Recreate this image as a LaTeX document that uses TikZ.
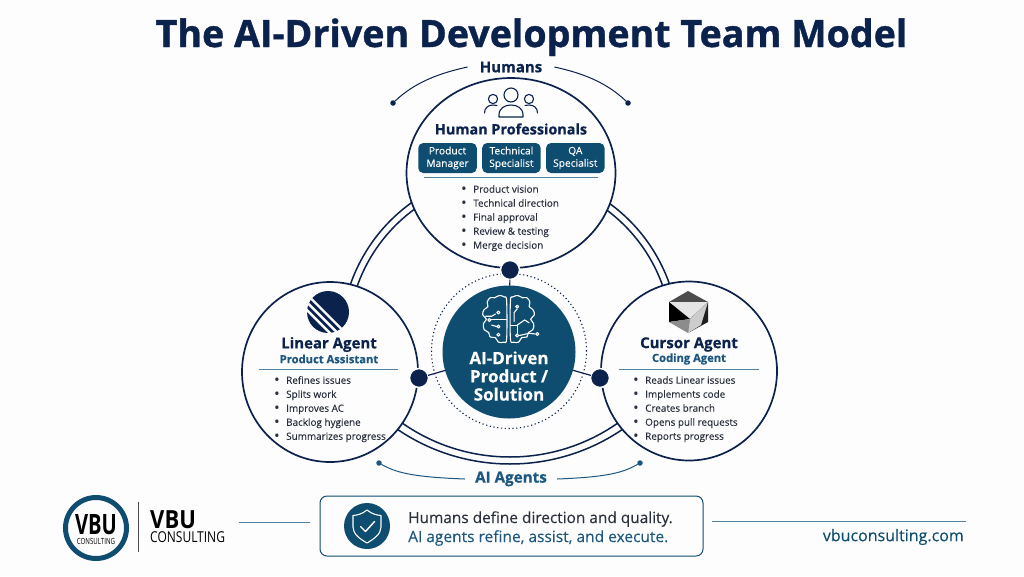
\documentclass[tikz,border=0pt]{standalone}
\usepackage{fontspec}
\setmainfont[FakeBold=0.15,BoldFeatures={FakeBold=0.5}]{Open Sans}
\newfontfamily\titlefont[BoldFeatures={FakeBold=1}]{Open Sans}
\newfontfamily\vbufont[FakeStretch=0.72]{Open Sans}
\newfontfamily\brandfont[FakeStretch=0.88]{Open Sans}
\newfontfamily\brandsub[FakeStretch=0.8]{Open Sans}
\usetikzlibrary{
  shapes.geometric,
  positioning,
  calc
}
\definecolor{mynavy}{RGB}{11,34,77}
\definecolor{myteal}{RGB}{14,76,112}
\definecolor{mysub}{RGB}{30,88,128}
\definecolor{myrule}{RGB}{84,130,160}
\definecolor{mytext}{RGB}{42,48,62}
\definecolor{mypaper}{RGB}{253,253,253}
\newcommand{\sz}[2]{\fontsize{#1}{#2}\selectfont}
\newcommand{\itembul}{\makebox[12pt][l]{\sz{14}{14}\raisebox{-0.6pt}{\textbullet}}}

\begin{document}
\begin{tikzpicture}[
  x=1pt,y=1pt,
  bigcircle/.style={
    draw=mynavy,
    fill=mypaper,
    line width=1.7pt,
    ellipse,
    inner sep=0pt,
    outer sep=0pt
    },
  hubdot/.style={
    circle,
    fill=mynavy,
    draw=mypaper,
    line width=1.5pt,
    minimum size=19pt,
    inner sep=0pt,
    outer sep=0pt
    },
  tinydot/.style={
    circle,
    fill=#1,
    minimum size=5.5pt,
    inner sep=0pt,
    outer sep=0pt
    },
  rolebox/.style={
    fill=myteal,
    rounded corners=5pt,
    text=white,
    align=center,
    minimum width=58.5pt,
    minimum height=30pt,
    inner sep=0pt,
    font=\sz{10.2}{12.5}
    },
  itemlist/.style={
    text=mytext,
    align=left,
    anchor=north west,
    inner sep=0pt,
    font=\sz{9.9}{14}
    },
  headname/.style={
    text=mynavy,
    inner sep=0pt,
    font=\sz{15}{16}\bfseries
    },
  subname/.style={
    text=mysub,
    inner sep=0pt,
    font=\sz{11.2}{13}\bfseries
    },
  ruleline/.style={draw=myrule,line width=0.9pt},
  ringline/.style={draw=mynavy,line width=1.5pt},
  iconline/.style={draw=#1,line width=1.1pt,line join=round,line cap=round}
]
\useasboundingbox (0,-576) rectangle (1024,0);
\fill[mypaper] (0,-576) rectangle (1024,0);

\node[text=mynavy,font=\titlefont\sz{37.6}{40}\bfseries,inner sep=0pt,anchor=base] (title) at (531.5,-47)
  {The AI-Driven Development Team Model};

% double ring behind the circles
\coordinate (ringtop) at (510,-340);
\coordinate (ringlow) at (510,-264);
\coordinate (ringin) at (510,-269);
\draw[ringline] ([shift={(ringtop)}]118:169) arc (118:165:169);
\draw[ringline] ([shift={(ringtop)}]118:162) arc (118:165:162);
\draw[ringline] ([shift={(ringtop)}]62:169) arc (62:15:169);
\draw[ringline] ([shift={(ringtop)}]62:162) arc (62:15:162);
\draw[ringline] ([shift={(ringlow)}]230:200) arc (230:310:200);
\draw[ringline] ([shift={(ringin)}]230:188) arc (230:310:188);

% centre
\node[circle,draw=mynavy,line width=1.1pt,dash pattern=on 1.2pt off 2.6pt,
  minimum size=155pt,inner sep=0pt] (corering) at (509,-351) {};
\node[circle,fill=myteal,minimum size=133pt,inner sep=0pt,outer sep=0pt] (core) at (509,-352) {};
\node[text=white,align=center,inner sep=0pt,font=\sz{17}{18.2}\bfseries] (coretext) at (509,-376)
  {AI-Driven\\Product /\\Solution};

% brain
\begin{scope}[shift={(472.9,-289.6)},x=0.375pt,y=-0.37pt,iconline=white]
  \draw plot[smooth cycle,tension=0.6] coordinates {(90,32) (84,20) (70,16) (58,22) (46,22) (38,34) (40,46) (30,54) (26,68) (36,80) (28,92) (30,108) (42,116) (46,128) (60,130) (68,142) (82,142) (90,132)};
  \draw plot[smooth cycle,tension=0.6] coordinates {(100,32) (106,20) (120,16) (132,22) (144,22) (152,34) (150,46) (160,54) (164,68) (154,80) (162,92) (160,108) (148,116) (144,128) (130,130) (122,142) (108,142) (100,132)};
  \foreach \px/\py in {68/62,44/82,68/100,68/122,118/46,118/124,172/120}
    \draw (\px,\py) circle (4);
  \draw (60,66) -- (50,72) -- (34,72);
  \draw (48,82) -- (90,82);
  \draw (64,100) -- (50,96);
  \draw (118,52) -- (110,62) -- (110,86);
  \draw (118,96) -- (138,82) -- (150,90);
  \draw (100,96) -- (118,96) -- (118,118);
  \draw (124,124) -- (150,118) -- (166,120);
\end{scope}

% three circles
\node[bigcircle,minimum width=209pt,minimum height=190pt] (humancircle) at (511,-173) {};
\node[bigcircle,minimum width=176pt,minimum height=180pt] (linearcircle) at (330,-372) {};
\node[bigcircle,minimum width=176pt,minimum height=179pt] (cursorcircle) at (689,-371) {};

% hubs
\node[hubdot] (hubtop) at (510,-270) {};
\node[hubdot] (hubleft) at (419,-378) {};
\node[hubdot] (hubright) at (600,-378) {};
\draw[draw=mynavy,line width=1.2pt] (hubtop) -- (core);
\draw[draw=mynavy,line width=1.2pt] (hubleft) -- (core);
\draw[draw=mynavy,line width=1.2pt] (hubright) -- (core);

% humans
\node[text=mynavy,inner sep=0pt,font=\sz{15}{16}\bfseries] (humans) at (511,-67) {Humans};
\node[tinydot=mynavy] (humanl) at (393,-103) {};
\node[tinydot=mynavy] (humanr) at (628,-103) {};
\draw[draw=mynavy,line width=1pt] (humanl) .. controls (415,-82) and (440,-73) .. ([xshift=-12pt]humans.west);
\draw[draw=mynavy,line width=1pt] (humanr) .. controls (606,-82) and (582,-73) .. ([xshift=12pt]humans.east);

% people icon
\begin{scope}[iconline=mynavy]
  \draw (511,-95) circle (7);
  \draw (493,-99) circle (4.6);
  \draw (529,-99) circle (4.6);
  \draw (499,-117) -- (523,-117) -- (523,-115) .. controls (523,-108) and (517,-105) .. (511,-105)
    .. controls (505,-105) and (499,-108) .. (499,-115) -- cycle;
  \draw (484.5,-113) .. controls (484.5,-108) and (488,-105) .. (493,-105) -- (497,-105.5);
  \draw (537.5,-113) .. controls (537.5,-108) and (534,-105) .. (529,-105) -- (525,-105.5);
\end{scope}

\node[headname,font=\sz{14.4}{16}\bfseries] (humanhead) at (511,-129) {Human Professionals};
\node[rolebox] (rolepm) at (447.5,-158) {Product\\Manager};
\node[rolebox,right=5pt of rolepm] (rolets) {Technical\\Specialist};
\node[rolebox,right=5pt of rolets] (roleqa) {QA\\Specialist};
\draw[ruleline] (424,-177.5) -- (598,-177.5);
\node[itemlist] (humanlist) at (461,-185)
  {\itembul Product vision\\
   \itembul Technical direction\\
   \itembul Final approval\\
   \itembul Review \& testing\\
   \itembul Merge decision};

% linear agent
\fill[mynavy] (328,-312) circle (21);
\begin{scope}
  \clip (328,-312) circle (21.5);
  \foreach \off in {2.5,8,13.5}
    \draw[draw=mypaper,line width=2.4pt] ($(328,-312)+(225:\off)+(-45:30)$) -- ($(328,-312)+(225:\off)+(135:30)$);
\end{scope}
\node[headname] (linearhead) at (329,-344.5) {Linear Agent};
\node[subname] (linearsub) at (329,-359) {Product Assistant};
\draw[ruleline] (259,-369) -- (398,-369);
\node[itemlist] (linearlist) at (274,-376)
  {\itembul Refines issues\\
   \itembul Splits work\\
   \itembul Improves AC\\
   \itembul Backlog hygiene\\
   \itembul Summarizes progress};

% cursor agent
\fill[black!70] (688,-291) -- (708,-302) -- (669,-302) -- cycle;
\fill[black!10] (669,-302) -- (708,-302) -- (690,-319) -- cycle;
\fill[black] (669,-302) -- (690,-319) -- (669,-322) -- cycle;
\fill[black!45] (669,-322) -- (690,-319) -- (688,-333) -- cycle;
\fill[black!88] (708,-302) -- (708,-322) -- (688,-333) -- (690,-319) -- cycle;
\fill[black!20] (690,-319) -- (688,-333) -- (701,-325) -- (708,-302) -- cycle;
\node[headname] (cursorhead) at (689,-344.5) {Cursor Agent};
\node[subname] (cursorsub) at (689,-359) {Coding Agent};
\draw[ruleline] (619,-369) -- (759,-369);
\node[itemlist] (cursorlist) at (633,-376)
  {\itembul Reads Linear issues\\
   \itembul Implements code\\
   \itembul Creates branch\\
   \itembul Opens pull requests\\
   \itembul Reports progress};

% ai agents
\node[text=mysub,inner sep=0pt,font=\sz{15.2}{16}\bfseries] (agents) at (511,-479) {AI Agents};
\node[tinydot=mysub] (agentl) at (379,-463) {};
\node[tinydot=mysub] (agentr) at (640,-463) {};
\draw[draw=mysub,line width=1pt] (agentl) .. controls (395,-472) and (410,-477) .. ([xshift=-10pt]agents.west);
\draw[draw=mysub,line width=1pt] (agentr) .. controls (624,-472) and (610,-477) .. ([xshift=10pt]agents.east);

% footer
\node[circle,draw=myteal,line width=5pt,minimum size=61pt,inner sep=0pt] (logoring) at (96,-528) {};
\node[inner sep=0pt,font=\vbufont\sz{28}{28}\bfseries] (logovbu) at (96,-525) {VBU};
\node[inner sep=0pt,font=\vbufont\sz{8.5}{9}] (logocon) at (96,-541) {CONSULTING};
\draw[draw=black!70,line width=0.8pt] (138,-502) -- (138,-552);
\node[inner sep=0pt,anchor=base west,font=\brandfont\sz{25}{25}\bfseries] (brandvbu) at (150,-528) {VBU};
\node[inner sep=0pt,anchor=base west,font=\brandsub\sz{15}{15}] (brandcon) at (150,-542.5) {CONSULTING};

\node[draw=myteal,line width=1pt,fill=mypaper,rounded corners=7pt,minimum width=383pt,minimum height=60pt,
  inner sep=0pt] (notebox) at (511.5,-526) {};
\coordinate (noteleft) at (239,-522.5);
\coordinate (noteright) at (966,-521);
\draw[ruleline] (noteleft) -- ([xshift=-10pt]notebox.west |- noteleft);
\draw[ruleline] ([xshift=8pt]notebox.east |- noteright) -- (noteright);
\node[circle,fill=myteal,minimum size=46pt,inner sep=0pt] (shield) at (367,-526) {};
\begin{scope}[iconline=white,line width=1.1pt]
  \draw (367,-510) .. controls (372,-514) and (376,-515) .. (381,-515.5)
    -- (381,-527) .. controls (381,-534) and (374,-539) .. (367,-543)
    .. controls (360,-539) and (353,-534) .. (353,-527)
    -- (353,-515.5) .. controls (358,-515) and (362,-514) .. cycle;
  \draw[line width=1.4pt] (360.5,-526.5) -- (365.5,-531.5) -- (374.5,-521.5);
\end{scope}
\node[inner sep=0pt,anchor=west,text=mytext,font=\sz{15.4}{16}] (noteone) at (408,-519) {Humans define direction and quality.};
\node[inner sep=0pt,anchor=west,text=mysub,font=\sz{15.5}{16}] (notetwo) at (408,-538) {AI agents refine, assist, and execute.};
\node[inner sep=0pt,anchor=east,text=myteal,font=\sz{16}{16}] (website) at (964,-537) {vbuconsulting.com};
\end{tikzpicture}
\end{document}
